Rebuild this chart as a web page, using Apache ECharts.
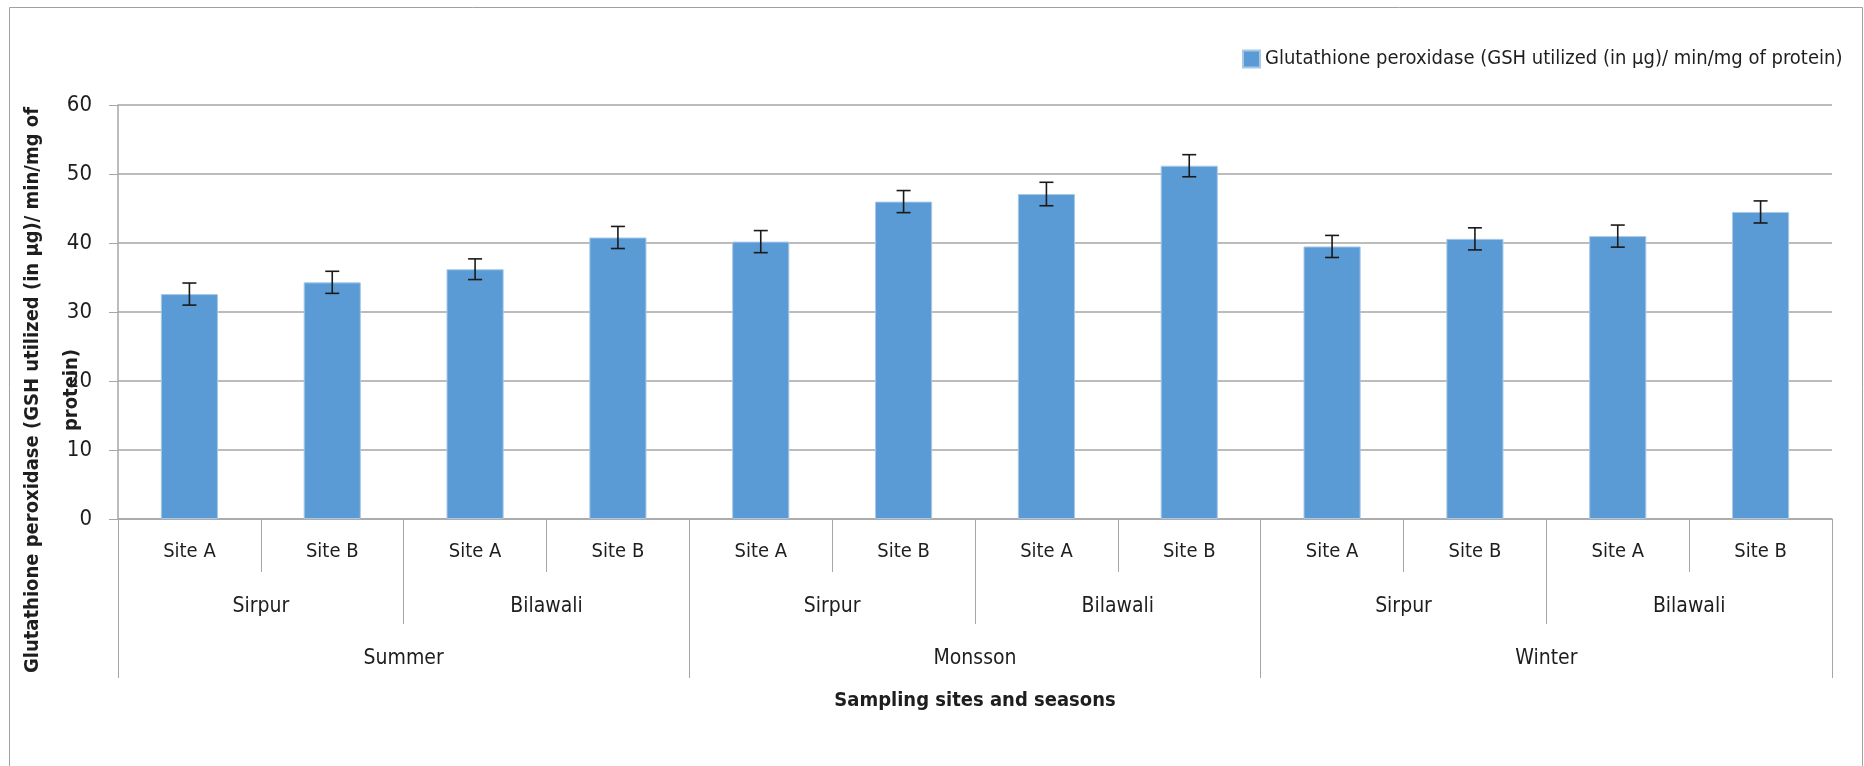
<!DOCTYPE html>
<html>
<head>
<meta charset="utf-8">
<script src="https://cdn.jsdelivr.net/npm/echarts@6/dist/echarts.min.js"></script>
<style>
html,body{margin:0;padding:0;background:#fff;}
#chart{width:1864px;height:766px;}
</style>
</head>
<body>
<div id="chart"></div>
<script>
// ---- data ----
const siteLabels = ['Site A','Site B','Site A','Site B','Site A','Site B','Site A','Site B','Site A','Site B','Site A','Site B'];
const locationLabels = ['Sirpur','Bilawali','Sirpur','Bilawali','Sirpur','Bilawali'];
const seasonLabels = ['Summer','Monsson','Winter'];
const gpxValues = [32.6, 34.3, 36.2, 40.8, 40.2, 46.0, 47.1, 51.2, 39.5, 40.6, 41.0, 44.5];
const gpxErrors = [1.6, 1.6, 1.5, 1.6, 1.6, 1.6, 1.7, 1.6, 1.6, 1.6, 1.6, 1.6];
const yTicks = [0, 10, 20, 30, 40, 50, 60];
const seriesName = 'Glutathione peroxidase (GSH utilized (in µg)/ min/mg of protein)';
const yTitle = 'Glutathione peroxidase (GSH utilized (in µg)/ min/mg of\nprotein)';
const xTitle = 'Sampling sites and seasons';

const FONT = '"Liberation Sans Narrow", "DejaVu Sans Condensed", "Roboto", sans-serif';
const TXT = '#1e1e1e';
const GRID = '#a6a6a6';

const errorData = gpxValues.map((v, i) => [i, v - gpxErrors[i], v + gpxErrors[i]]);

const chart = echarts.init(document.getElementById('chart'));
chart.setOption({
  backgroundColor: '#fff',
  animation: false,
  textStyle: { fontFamily: FONT },
  grid: { left: 118, right: 32, top: 105, bottom: 247, containLabel: false },
  legend: {
    data: [seriesName],
    left: 1237, top: 44,
    icon: 'rect', itemWidth: 17, itemHeight: 17, itemGap: 4,
    textStyle: { fontFamily: FONT, fontSize: 20, color: TXT }
  },
  graphic: [
    { type: 'rect', shape: { x: 9.5, y: 7.5, width: 1853, height: 820 },
      style: { fill: 'none', stroke: '#a0a0a0', lineWidth: 1 }, silent: true },
    { type: 'text', x: 52, y: 390, rotation: Math.PI / 2,
      style: { text: yTitle, fontFamily: FONT, fontSize: 20, fontWeight: 'bold',
               fill: TXT, align: 'center', verticalAlign: 'middle', lineHeight: 39 } }
  ],
  xAxis: [
    { type: 'category', data: siteLabels, position: 'bottom',
      axisLine: { show: true, lineStyle: { color: GRID, width: 1.5 } },
      axisTick: { show: true, length: 53, interval: 0, lineStyle: { color: GRID } },
      axisLabel: { interval: 0, margin: 23, fontSize: 20, color: TXT, fontFamily: FONT },
      splitLine: { show: false } },
    { type: 'category', data: locationLabels, position: 'bottom',
      axisLine: { show: false },
      axisTick: { show: true, length: 105, interval: 0, lineStyle: { color: GRID } },
      axisLabel: { interval: 0, margin: 77, fontSize: 21, color: TXT, fontFamily: FONT },
      splitLine: { show: false } },
    { type: 'category', data: seasonLabels, position: 'bottom',
      axisLine: { show: false },
      axisTick: { show: true, length: 159, interval: 0, lineStyle: { color: GRID } },
      axisLabel: { interval: 0, margin: 129, fontSize: 21, color: TXT, fontFamily: FONT },
      splitLine: { show: false },
      name: xTitle, nameLocation: 'middle', nameGap: 172,
      nameTextStyle: { fontSize: 20, fontWeight: 'bold', color: TXT, fontFamily: FONT } }
  ],
  yAxis: {
    type: 'value', min: yTicks[0], max: yTicks[yTicks.length - 1], interval: 10,
    axisLine: { show: true, lineStyle: { color: GRID, width: 1.5 } },
    axisTick: { show: true, length: 9, lineStyle: { color: GRID } },
    axisLabel: { margin: 26, fontSize: 22, color: TXT, fontFamily: FONT },
    splitLine: { show: true, lineStyle: { color: GRID, width: 1.5 } }
  },
  series: [
    { name: seriesName, type: 'bar', xAxisIndex: 0, data: gpxValues, barWidth: '40%',
      itemStyle: { color: '#5B9BD5', borderColor: '#a8c8e8', borderWidth: 1 } },
    { name: 'error', type: 'custom', xAxisIndex: 0, data: errorData, z: 5,
      renderItem: function (params, api) {
        const lo = api.coord([api.value(0), api.value(1)]);
        const hi = api.coord([api.value(0), api.value(2)]);
        const hw = 7;
        const st = { stroke: '#1a1a1a', lineWidth: 1.6 };
        return { type: 'group', children: [
          { type: 'line', shape: { x1: lo[0], y1: lo[1], x2: hi[0], y2: hi[1] }, style: st },
          { type: 'line', shape: { x1: lo[0] - hw, y1: lo[1], x2: lo[0] + hw, y2: lo[1] }, style: st },
          { type: 'line', shape: { x1: hi[0] - hw, y1: hi[1], x2: hi[0] + hw, y2: hi[1] }, style: st }
        ]};
      } }
  ]
});
</script>
</body>
</html>
